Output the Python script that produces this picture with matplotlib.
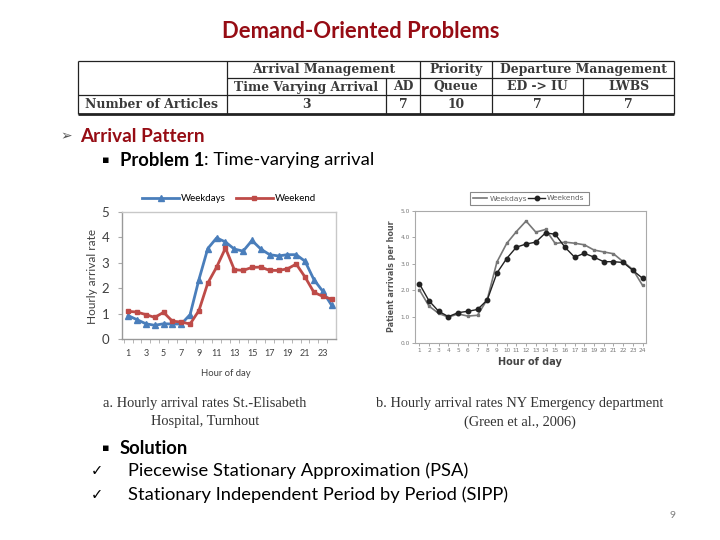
import matplotlib
matplotlib.use('Agg')
import matplotlib.pyplot as plt
from matplotlib.patches import Rectangle

# ---------------- data ----------------
hours = list(range(1, 25))
st_weekdays = [0.92, 0.76, 0.60, 0.54, 0.60, 0.59, 0.59, 0.96, 2.34, 3.56, 3.98, 3.82,
               3.54, 3.46, 3.88, 3.54, 3.32, 3.27, 3.32, 3.32, 3.06, 2.34, 1.88, 1.33]
st_weekend = [1.09, 1.06, 0.96, 0.85, 1.05, 0.70, 0.67, 0.59, 1.12, 2.20, 2.83, 3.58,
              2.73, 2.70, 2.82, 2.83, 2.70, 2.70, 2.76, 2.95, 2.44, 1.84, 1.68, 1.57]
ny_weekdays = [2.02, 1.40, 1.12, 0.98, 1.10, 1.02, 1.05, 1.65, 3.07, 3.77, 4.22, 4.62,
               4.20, 4.30, 3.77, 3.82, 3.78, 3.72, 3.52, 3.45, 3.38, 3.08, 2.78, 2.18]
ny_weekends = [2.25, 1.60, 1.20, 1.00, 1.15, 1.20, 1.27, 1.63, 2.65, 3.20, 3.63, 3.75,
               3.82, 4.17, 4.12, 3.63, 3.25, 3.40, 3.25, 3.08, 3.08, 3.05, 2.75, 2.45]
a_xticklabels = [str(h) for h in range(1, 24, 2)]
a_yticks = [0, 1, 2, 3, 4, 5]
b_yticks = [0.0, 1.0, 2.0, 3.0, 4.0, 5.0]

table_groups = ["Arrival Management", "Priority", "Departure Management"]
table_subcols = ["Time Varying Arrival", "AD", "Queue", "ED -> IU", "LWBS"]
table_row_label = "Number of Articles"
table_counts = [3, 7, 10, 7, 7]

# ---------------- figure ----------------
W, H = 720, 540
fig = plt.figure(figsize=(7.2, 5.4), dpi=100)
bg = fig.add_axes([0, 0, 1, 1])
bg.set_xlim(0, W)
bg.set_ylim(H, 0)
bg.axis('off')

def axes_px(l, t, r, b):
    return fig.add_axes([l / W, 1 - b / H, (r - l) / W, (b - t) / H])

RED = '#960C14'
BODY = ['Lato', 'DejaVu Sans']

bg.text(361, 31, "Demand-Oriented Problems", ha='center', va='center',
        fontsize=15.8, fontweight='bold', color=RED, family=BODY)

# ---------------- table ----------------
X = [78, 227, 386, 420, 492, 583, 674]
Y = [61, 78, 95, 114]
lc = '#222222'
def hl(y, x0, x1, lw=0.9):
    bg.plot([x0, x1], [y, y], color=lc, lw=lw, solid_capstyle='butt')
def vl(x, y0, y1, lw=0.9):
    bg.plot([x, x], [y0, y1], color=lc, lw=lw, solid_capstyle='butt')
hl(Y[0], X[0], X[-1])
hl(Y[1], X[1], X[-1])
hl(Y[2], X[0], X[-1])
hl(Y[3], X[0], X[-1], lw=2.0)
vl(X[0], Y[0], Y[3]); vl(X[-1], Y[0], Y[3])
vl(X[1], Y[0], Y[3]); vl(X[3], Y[0], Y[3]); vl(X[4], Y[0], Y[3])
vl(X[2], Y[1], Y[3]); vl(X[5], Y[1], Y[3])

tfont = dict(family='DejaVu Serif', fontweight='bold', fontsize=8.9, color='#3a3a3a',
             va='center')
ry = [(Y[0] + Y[1]) / 2 + 0.5, (Y[1] + Y[2]) / 2 + 0.5, (Y[2] + Y[3]) / 2 + 0.5]
bg.text((X[1] + X[3]) / 2, ry[0], table_groups[0], ha='center', **tfont)
bg.text((X[3] + X[4]) / 2, ry[0], table_groups[1], ha='center', **tfont)
bg.text((X[4] + X[6]) / 2, ry[0], table_groups[2], ha='center', **tfont)
col_centers = [(X[i] + X[i + 1]) / 2 for i in range(1, 6)]
for cx, lab in zip(col_centers, table_subcols):
    bg.text(cx, ry[1], lab, ha='center', **tfont)
bg.text(X[0] + 7, ry[2], table_row_label, ha='left', **tfont)
for cx, v in zip(col_centers, table_counts):
    bg.text(cx, ry[2], str(v), ha='center', **tfont)

# ---------------- bullets ----------------
fig.canvas.draw()
renderer = fig.canvas.get_renderer()
inv = bg.transData.inverted()

def run_text(x, y, parts, fontsize=13.2):
    for txt, weight, color in parts:
        t = bg.text(x, y, txt, ha='left', va='center', fontsize=fontsize,
                    fontweight=weight, color=color, family=BODY)
        bb = t.get_window_extent(renderer=renderer)
        x = inv.transform((bb.x1, bb.y0))[0]

bg.text(60, 136, "\u27a2", ha='left', va='center', fontsize=10, color='#555555',
        family='DejaVu Sans')
run_text(80, 136, [("Arrival Pattern", 'bold', RED)], fontsize=13.6)
bg.text(102, 160, "\u25aa", ha='left', va='center', fontsize=8, color='black',
        family='DejaVu Sans')
run_text(120, 160, [("Problem 1", 'bold', 'black'), (": Time-varying arrival", 'normal', 'black')])

bg.text(102, 448, "\u25aa", ha='left', va='center', fontsize=8, color='black',
        family='DejaVu Sans')
run_text(120, 448, [("Solution", 'bold', 'black')])
bg.text(91, 471, "\u2713", ha='left', va='center', fontsize=10.5, color='black',
        family='DejaVu Sans')
run_text(128, 471, [("Piecewise Stationary Approximation (PSA)", 'normal', 'black')])
bg.text(91, 495, "\u2713", ha='left', va='center', fontsize=10.5, color='black',
        family='DejaVu Sans')
run_text(128, 495, [("Stationary Independent Period by Period (SIPP)", 'normal', 'black')])

bg.text(673, 515, "9", ha='center', va='center', fontsize=7.5, color='#808080',
        family=BODY)

# ---------------- chart a ----------------
BLUE = '#4A7EBB'
REDA = '#BE4B48'
axa = axes_px(122, 212, 336, 339)
axa.plot(hours, st_weekdays, color=BLUE, lw=2.0, marker='^', ms=4.5, label='Weekdays')
axa.plot(hours, st_weekend, color=REDA, lw=2.0, marker='s', ms=3.5, label='Weekend')
axa.set_xlim(0.3, 24.5)
axa.set_ylim(0, 5)
axa.set_yticks(a_yticks)
axa.set_yticklabels([str(v) for v in a_yticks], fontsize=9.5, color='#404040', family=BODY)
axa.set_xticks(list(range(1, 24, 2)))
axa.set_xticklabels(a_xticklabels, fontsize=6.5, color='#404040', family=BODY)
axa.set_xticks([h + 0.5 for h in range(0, 24)], minor=True)
axa.tick_params(axis='x', which='major', length=0, pad=7)
axa.tick_params(axis='x', which='minor', length=3, color='#aaaaaa', direction='out')
axa.tick_params(axis='y', length=3, color='#aaaaaa', pad=6)
for s in axa.spines.values():
    s.set_color('#c8c8c8')
    s.set_linewidth(1.0)
axa.spines['left'].set_color('#999999')
axa.spines['bottom'].set_color('#999999')
leg = axa.legend(loc='lower center', bbox_to_anchor=(0.5, 1.04), ncol=2, frameon=False,
                 handlelength=3.8, columnspacing=1.0, handletextpad=0.2,
                 borderaxespad=0, prop={'family': BODY, 'size': 7})
bg.text(92, 276, "Hourly arrival rate", rotation=90, ha='center', va='center',
        fontsize=8.5, color='#404040', family=BODY)
bg.text(226, 373, "Hour of day", ha='center', va='center', fontsize=6.8,
        color='#404040', family=BODY)

# ---------------- chart b ----------------
axb = axes_px(415, 211, 646, 343)
axb.plot(hours, ny_weekdays, color='#777777', lw=1.2, marker='s', ms=1.5)
axb.plot(hours, ny_weekends, color='#222222', lw=1.0, marker='o', ms=3.2)
axb.set_xlim(0.56, 24.35)
axb.set_ylim(0, 5)
axb.set_yticks(b_yticks)
axb.set_yticklabels(["%.1f" % v for v in b_yticks], fontsize=4.2, color='#777777')
axb.set_xticks(hours)
axb.set_xticklabels([str(h) for h in hours], fontsize=4.2, color='#777777')
axb.tick_params(length=2, color='#999999', width=0.6, pad=1.5)
for s in axb.spines.values():
    s.set_color('#aaaaaa')
    s.set_linewidth(0.8)
bg.text(392, 276, "Patient arrivals per hour", rotation=90, ha='center', va='center',
        fontsize=5.8, fontweight='bold', color='#555555')
bg.text(530, 362, "Hour of day", ha='center', va='center', fontsize=7,
        fontweight='bold', color='#444444')
# legend box (b)
bg.add_patch(Rectangle((470, 192), 119, 12.5, fill=False, ec='#888888', lw=0.8))
bg.plot([473, 487], [198, 198], color='#777777', lw=1.2)
bg.text(490, 198.5, "Weekdays", ha='left', va='center', fontsize=5.3, color='#666666')
bg.plot([528, 545], [198, 198], color='#222222', lw=1.0)
bg.plot([536.5], [198], color='#222222', marker='o', ms=3.2)
bg.text(547, 198.5, "Weekends", ha='left', va='center', fontsize=5.3, color='#666666')

# ---------------- captions ----------------
cap = dict(family='Liberation Serif', fontsize=10.4, color='#333333', ha='center', va='center')
bg.text(205, 403, "a. Hourly arrival rates St.-Elisabeth", **cap)
bg.text(205, 422, "Hospital, Turnhout", **cap)
bg.text(520, 403, "b. Hourly arrival rates NY Emergency department", **cap)
bg.text(520, 422, "(Green et al., 2006)", **cap)

fig.savefig('out.png', dpi=100)
